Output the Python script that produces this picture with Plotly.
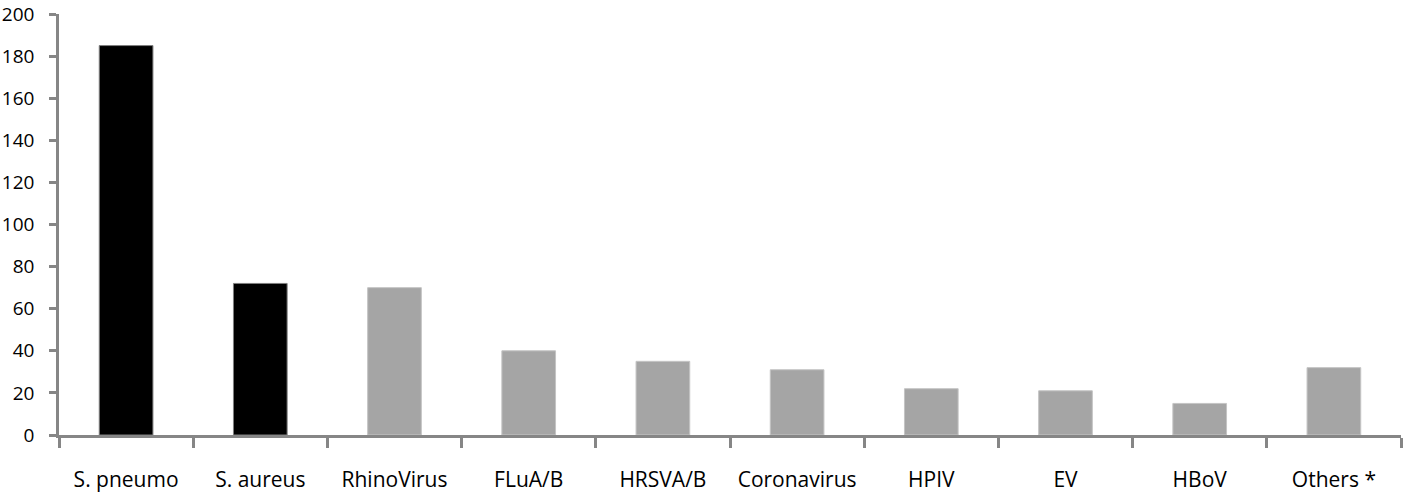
import plotly.graph_objects as go

categories = ["S. pneumo", "S. aureus", "RhinoVirus", "FLuA/B", "HRSVA/B",
              "Coronavirus", "HPIV", "EV", "HBoV", "Others *"]
values = [185, 72, 70, 40, 35, 31, 22, 21, 15, 32]
bar_colors = ["#000000", "#000000", "#A5A5A5", "#A5A5A5", "#A5A5A5",
              "#A5A5A5", "#A5A5A5", "#A5A5A5", "#A5A5A5", "#A5A5A5"]
edge_colors = ["#7f7f7f", "#7f7f7f", "#c4c4c4", "#c4c4c4", "#c4c4c4",
               "#c4c4c4", "#c4c4c4", "#c4c4c4", "#c4c4c4", "#c4c4c4"]
y_ticks = [0, 20, 40, 60, 80, 100, 120, 140, 160, 180, 200]

FONT = "Open Sans, Noto Sans, Liberation Sans, sans-serif"
AXIS_COLOR = "#868686"

fig = go.Figure(
    go.Bar(
        x=categories,
        y=values,
        marker=dict(color=bar_colors, line=dict(color=edge_colors, width=1)),
        width=0.4,
    )
)

fig.update_layout(
    width=1419,
    height=494,
    margin=dict(l=59, r=18, t=14, b=59, autoexpand=False),
    paper_bgcolor="white",
    plot_bgcolor="white",
    showlegend=False,
    font=dict(family=FONT, size=21, color="black"),
)

fig.update_xaxes(
    type="category",
    automargin=False,
    showgrid=False,
    showline=True,
    linecolor=AXIS_COLOR,
    linewidth=2.5,
    ticks="outside",
    tickson="boundaries",
    ticklen=10,
    tickwidth=2.5,
    tickcolor=AXIS_COLOR,
    ticklabelstandoff=24,
    tickfont=dict(family=FONT, size=21, color="black"),
)

fig.update_yaxes(
    range=[0, 200],
    tickvals=y_ticks,
    automargin=False,
    ticklabeloverflow="allow",
    showgrid=False,
    zeroline=False,
    showline=True,
    linecolor=AXIS_COLOR,
    linewidth=2.5,
    ticks="outside",
    ticklen=7,
    tickwidth=2.5,
    tickcolor=AXIS_COLOR,
    ticklabelstandoff=11,
    tickfont=dict(family=FONT, size=19, color="black"),
)

fig.write_html(
    "out.html",
    config={"displayModeBar": False},
    post_script="document.body.style.margin='0';document.body.style.overflow='hidden';",
)
